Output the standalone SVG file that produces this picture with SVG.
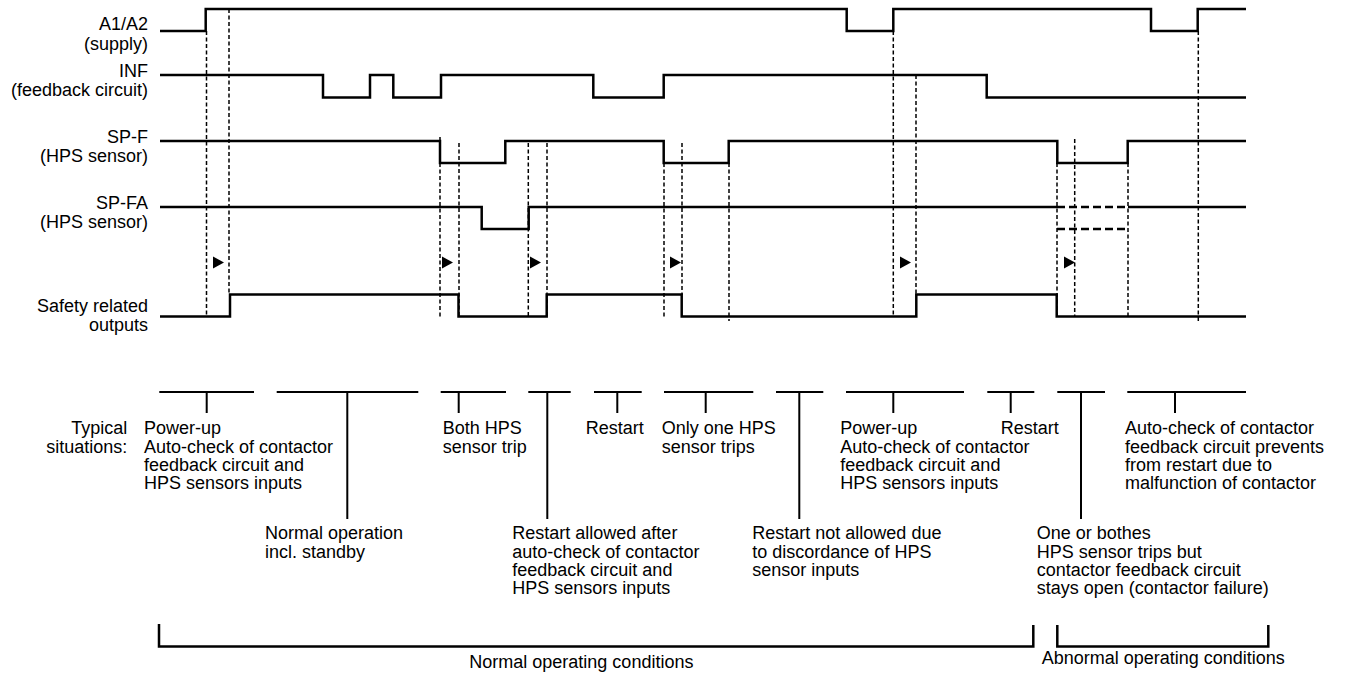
<svg xmlns="http://www.w3.org/2000/svg" width="1346" height="675" viewBox="0 0 1346 675">
<style>
  .sig{fill:none;stroke:#000;stroke-width:2.5;stroke-linejoin:miter;stroke-linecap:butt}
  .sigd{fill:none;stroke:#000;stroke-width:2.5;stroke-dasharray:8 4}
  .vd{fill:none;stroke:#000;stroke-width:1.5;stroke-dasharray:4 2.5}
  .tick{fill:none;stroke:#000;stroke-width:2}
  .br{fill:none;stroke:#000;stroke-width:2.5}
  .lbl{font-family:"Liberation Sans",Arial,sans-serif;font-size:18px;fill:#000}
  .r{text-anchor:end}
  .tri{fill:#000}
</style>
<rect width="1346" height="675" fill="#fff"/>

<g id="signal-a1a2">
  <text class="lbl r" x="148" y="29.5">A1/A2</text>
  <text class="lbl r" x="148" y="49.5">(supply)</text>
  <path class="sig" d="M160,31 H205.7 V9 H846.7 V31 H893.3 V9 H1151 V31 H1197.7 V9 H1246"/>
</g>
<g id="signal-inf">
  <text class="lbl r" x="148" y="77">INF</text>
  <text class="lbl r" x="148" y="96">(feedback circuit)</text>
  <path class="sig" d="M160,75 H323 V97.5 H370 V75 H393.3 V97.5 H441 V75 H593.3 V97.5 H663.7 V75 H986.7 V97.5 H1246"/>
</g>
<g id="signal-spf">
  <text class="lbl r" x="148" y="143.3">SP-F</text>
  <text class="lbl r" x="148" y="161.5">(HPS sensor)</text>
  <path class="sig" d="M160,141 H440 V163 H505.3 V141 H663.7 V163 H728.7 V141 H1057.3 V163 H1127.7 V141 H1246"/>
</g>
<g id="signal-spfa">
  <text class="lbl r" x="148" y="209.3">SP-FA</text>
  <text class="lbl r" x="148" y="227.5">(HPS sensor)</text>
  <path class="sig" d="M160,207 H481.7 V229 H528.7 V207 H1057"/>
  <path class="sigd" d="M1057,207 H1128"/>
  <path class="sig" d="M1128,207 H1246"/>
  <path class="sigd" d="M1057,229 H1128"/>
</g>
<g id="signal-outputs">
  <text class="lbl r" x="148" y="311.7">Safety related</text>
  <text class="lbl r" x="148" y="331">outputs</text>
  <path class="sig" d="M160,316.5 H230 V294.5 H458.5 V316.5 H546.7 V294.5 H681.7 V316.5 H916.3 V294.5 H1056.7 V316.5 H1246"/>
</g>

<g id="connectors">
  <path class="vd" d="M206.5,31 V316"/>
  <path class="vd" d="M229,9 V295"/>
  <path class="vd" d="M440,137 V318"/>
  <path class="vd" d="M459,143 V316"/>
  <path class="vd" d="M528.3,143 V318"/>
  <path class="vd" d="M547,143 V316"/>
  <path class="vd" d="M664,163 V318"/>
  <path class="vd" d="M682,143 V295"/>
  <path class="vd" d="M729,163 V321"/>
  <path class="vd" d="M893.3,31 V316"/>
  <path class="vd" d="M916,75 V296"/>
  <path class="vd" d="M1057,163 V316"/>
  <path class="vd" d="M1074.7,139 V316"/>
  <path class="vd" d="M1128,163 V316"/>
  <path class="vd" d="M1198.3,31 V323"/>
  <polygon class="tri" points="213,256.5 224,262.5 213,268.5"/>
  <polygon class="tri" points="442,256.5 453,262.5 442,268.5"/>
  <polygon class="tri" points="530,256.5 541,262.5 530,268.5"/>
  <polygon class="tri" points="670,256.5 681,262.5 670,268.5"/>
  <polygon class="tri" points="900,256.5 911,262.5 900,268.5"/>
  <polygon class="tri" points="1064,256.5 1075,262.5 1064,268.5"/>
</g>

<g id="situation-ticks">
  <path class="tick" d="M159.3,392 H254 M206.7,392 V413"/>
  <path class="tick" d="M276.7,392 H418.3 M347.3,392 V519"/>
  <path class="tick" d="M440.7,392 H506 M458.7,392 V413"/>
  <path class="tick" d="M528.3,392 H570.7 M547.3,392 V519"/>
  <path class="tick" d="M594,392 H641.7 M617.3,392 V413"/>
  <path class="tick" d="M664,392 H753.3 M705.7,392 V413"/>
  <path class="tick" d="M776,392 H823.3 M799.3,392 V519"/>
  <path class="tick" d="M846,392 H964 M893.3,392 V413"/>
  <path class="tick" d="M987.3,392 H1034.3 M1010.7,392 V413"/>
  <path class="tick" d="M1057.3,392 H1105 M1081,392 V519"/>
  <path class="tick" d="M1127.3,392 H1246 M1175,392 V413"/>
</g>

<g id="typical">
  <text class="lbl r" x="127.3" y="434.3">Typical</text>
  <text class="lbl r" x="127.3" y="452.6">situations:</text>
</g>
<g id="sit-powerup-1">
  <text class="lbl" x="144" y="434.3">Power-up</text>
  <text class="lbl" x="144" y="452.6">Auto-check of contactor</text>
  <text class="lbl" x="144" y="470.9">feedback circuit and</text>
  <text class="lbl" x="144" y="489.2">HPS sensors inputs</text>
</g>
<g id="sit-normal">
  <text class="lbl" x="265" y="539.3">Normal operation</text>
  <text class="lbl" x="265" y="557.6">incl. standby</text>
</g>
<g id="sit-both-trip">
  <text class="lbl" x="442.7" y="434.3">Both HPS</text>
  <text class="lbl" x="442.7" y="452.6">sensor trip</text>
</g>
<g id="sit-restart-allowed">
  <text class="lbl" x="512.3" y="539.3">Restart allowed after</text>
  <text class="lbl" x="512.3" y="557.6">auto-check of contactor</text>
  <text class="lbl" x="512.3" y="575.9">feedback circuit and</text>
  <text class="lbl" x="512.3" y="594.2">HPS sensors inputs</text>
</g>
<g id="sit-restart-1">
  <text class="lbl" x="585.7" y="434.3">Restart</text>
</g>
<g id="sit-one-trip">
  <text class="lbl" x="661.7" y="434.3">Only one HPS</text>
  <text class="lbl" x="661.7" y="452.6">sensor trips</text>
</g>
<g id="sit-restart-not-allowed">
  <text class="lbl" x="752.3" y="539.3">Restart not allowed due</text>
  <text class="lbl" x="752.3" y="557.6">to discordance of HPS</text>
  <text class="lbl" x="752.3" y="575.9">sensor inputs</text>
</g>
<g id="sit-powerup-2">
  <text class="lbl" x="840.3" y="434.3">Power-up</text>
  <text class="lbl" x="840.3" y="452.6">Auto-check of contactor</text>
  <text class="lbl" x="840.3" y="470.9">feedback circuit and</text>
  <text class="lbl" x="840.3" y="489.2">HPS sensors inputs</text>
</g>
<g id="sit-restart-2">
  <text class="lbl" x="1000.7" y="434.3">Restart</text>
</g>
<g id="sit-contactor-failure">
  <text class="lbl" x="1036.7" y="539.3">One or bothes</text>
  <text class="lbl" x="1036.7" y="557.6">HPS sensor trips but</text>
  <text class="lbl" x="1036.7" y="575.9">contactor feedback circuit</text>
  <text class="lbl" x="1036.7" y="594.2">stays open (contactor failure)</text>
</g>
<g id="sit-autocheck-prevents">
  <text class="lbl" x="1125" y="434.3">Auto-check of contactor</text>
  <text class="lbl" x="1125" y="452.6">feedback circuit prevents</text>
  <text class="lbl" x="1125" y="470.9">from restart due to</text>
  <text class="lbl" x="1125" y="489.2">malfunction of contactor</text>
</g>

<g id="normal-conditions">
  <path class="br" d="M159,624 V646.5 H1033.3 V625"/>
  <text class="lbl" x="469.3" y="668">Normal operating conditions</text>
</g>
<g id="abnormal-conditions">
  <path class="br" d="M1057.3,625 V646.5 H1268.3 V625"/>
  <text class="lbl" x="1041.7" y="664">Abnormal operating conditions</text>
</g>
</svg>
